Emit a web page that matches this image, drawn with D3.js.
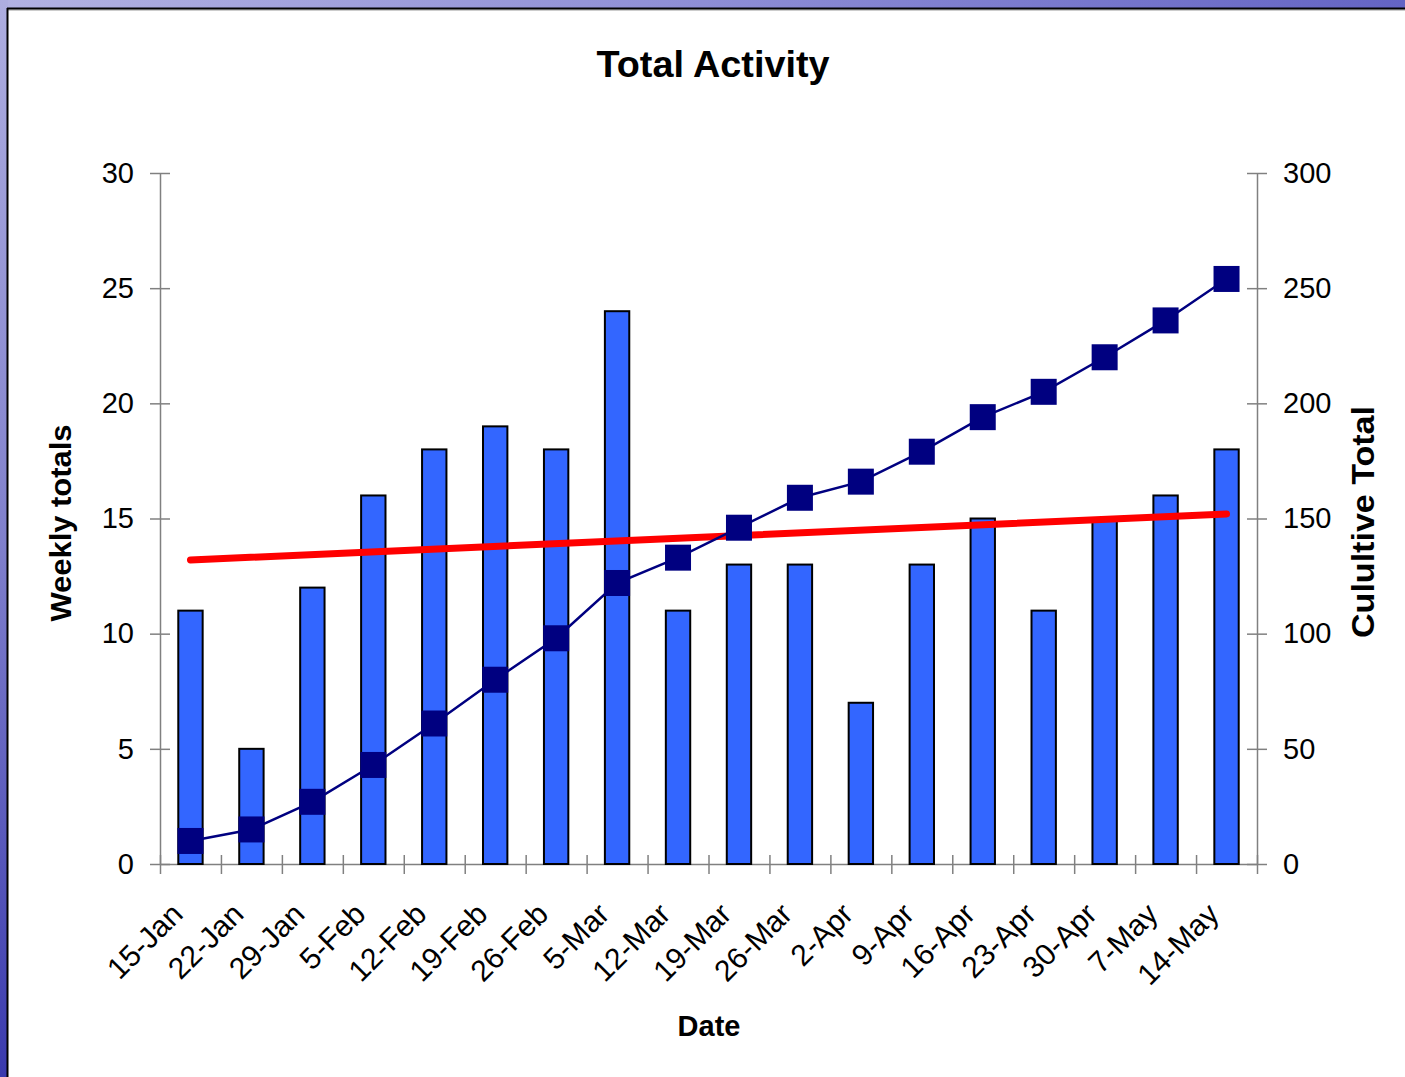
<!DOCTYPE html>
<html>
<head>
<meta charset="utf-8">
<script src="https://cdn.jsdelivr.net/npm/d3@7"></script>
<style>
  html, body { margin: 0; padding: 0; background: #ffffff; }
  svg { display: block; }
  text { font-family: "Liberation Sans", Arial, sans-serif; }
</style>
</head>
<body>
<svg id="chart" width="1405" height="1077"></svg>
<script>
// ---- data ----
const categories = ["15-Jan","22-Jan","29-Jan","5-Feb","12-Feb","19-Feb","26-Feb","5-Mar","12-Mar","19-Mar","26-Mar","2-Apr","9-Apr","16-Apr","23-Apr","30-Apr","7-May","14-May"];
const weeklyTotals = [11,5,12,16,18,19,18,24,11,13,13,7,13,15,11,15,16,18];
const cumulativeTotals = [10,15,27,43,61,80,98,122,133,146,159,166,179,194,205,220,236,254];
const trendEnds = [13.2, 15.2]; // trend line values at first and last week
const leftTicks = [0,5,10,15,20,25,30];
const rightTicks = [0,50,100,150,200,250,300];

const svg = d3.select("#chart");
const W = 1405, H = 1077;

// slide background
const defs = svg.append("defs");
const gTop = defs.append("linearGradient").attr("id","gTop").attr("x1","0").attr("x2","1").attr("y1","0").attr("y2","0");
gTop.append("stop").attr("offset","0").attr("stop-color","#b2b2e2");
gTop.append("stop").attr("offset","0.5").attr("stop-color","#8e8ed6");
gTop.append("stop").attr("offset","1").attr("stop-color","#6464c4");
const gLeft = defs.append("linearGradient").attr("id","gLeft").attr("x1","0").attr("x2","0").attr("y1","0").attr("y2","1");
gLeft.append("stop").attr("offset","0").attr("stop-color","#aeaee0");
gLeft.append("stop").attr("offset","0.5").attr("stop-color","#8080cc");
gLeft.append("stop").attr("offset","1").attr("stop-color","#3a3aae");
svg.append("rect").attr("x",0).attr("y",0).attr("width",W).attr("height",9).attr("fill","url(#gTop)");
svg.append("rect").attr("x",0).attr("y",0).attr("width",8).attr("height",H).attr("fill","url(#gLeft)");
svg.append("rect").attr("x",8).attr("y",9).attr("width",W-8).attr("height",H-9).attr("fill","#ffffff");
svg.append("line").attr("x1",7).attr("x2",W).attr("y1",10).attr("y2",10).attr("stroke","#9a9a9a").attr("stroke-width",1);
svg.append("line").attr("x1",7).attr("x2",W).attr("y1",8.5).attr("y2",8.5).attr("stroke","#000").attr("stroke-width",2);
svg.append("line").attr("x1",7.5).attr("x2",7.5).attr("y1",8).attr("y2",H).attr("stroke","#000").attr("stroke-width",2);

// scales
const plotL = 160, plotR = 1257, plotT = 173, plotB = 864;
const x = d3.scaleBand().domain(categories).range([plotL, plotR]).paddingInner(0.6).paddingOuter(0.3);
const xEdge = d3.scaleLinear().domain([0, categories.length]).range([plotL, plotR]);
const yL = d3.scaleLinear().domain([0,30]).range([plotB, plotT]);
const yR = d3.scaleLinear().domain([0,300]).range([plotB, plotT]);
const cx = d => x(d) + x.bandwidth()/2;

const axisColor = "#808080";
const fontSize = 29;

// left axis
const leftAxis = svg.append("g").attr("transform",`translate(${plotL},0)`)
  .call(d3.axisLeft(yL).tickValues(leftTicks).tickSize(0).tickPadding(26));
leftAxis.select(".domain").attr("stroke",axisColor).attr("stroke-width",1.5);
leftAxis.selectAll(".tick text").attr("font-size",fontSize).attr("fill","#000").attr("font-family","Liberation Sans, Arial, sans-serif");
leftAxis.selectAll(".tick").append("line").attr("x1",-10).attr("x2",10).attr("stroke",axisColor).attr("stroke-width",1.5);

// right axis
const rightAxis = svg.append("g").attr("transform",`translate(${plotR},0)`)
  .call(d3.axisRight(yR).tickValues(rightTicks).tickSize(0).tickPadding(26));
rightAxis.select(".domain").attr("stroke",axisColor).attr("stroke-width",1.5);
rightAxis.selectAll(".tick text").attr("font-size",fontSize).attr("fill","#000").attr("font-family","Liberation Sans, Arial, sans-serif");
rightAxis.selectAll(".tick").append("line").attr("x1",-10).attr("x2",10).attr("stroke",axisColor).attr("stroke-width",1.5);

// bottom axis (ticks at category edges)
const bottomAxis = svg.append("g").attr("transform",`translate(0,${plotB})`)
  .call(d3.axisBottom(xEdge).tickValues(d3.range(categories.length+1)).tickFormat("").tickSize(0));
bottomAxis.select(".domain").attr("stroke",axisColor).attr("stroke-width",1.5);
bottomAxis.selectAll(".tick").append("line").attr("y1",-9).attr("y2",10).attr("stroke",axisColor).attr("stroke-width",1.5);

// category labels
svg.append("g").selectAll("text").data(categories).join("text")
  .attr("transform", d => `translate(${cx(d)-6},${plotB+52}) rotate(-45)`)
  .attr("text-anchor","end")
  .attr("font-size",30)
  .attr("fill","#000")
  .text(d => d);

// bars
svg.append("g").selectAll("rect").data(weeklyTotals).join("rect")
  .attr("x",(d,i) => x(categories[i]))
  .attr("y",d => yL(d))
  .attr("width",x.bandwidth())
  .attr("height",d => plotB - yL(d))
  .attr("fill","#3366ff")
  .attr("stroke","#000")
  .attr("stroke-width",2);

// trend line
svg.append("line")
  .attr("x1",cx(categories[0])).attr("y1",yL(trendEnds[0]))
  .attr("x2",cx(categories[categories.length-1])).attr("y2",yL(trendEnds[1]))
  .attr("stroke","#ff0000").attr("stroke-width",7).attr("stroke-linecap","round");

// cumulative line
const line = d3.line().x((d,i) => cx(categories[i])).y(d => yR(d));
svg.append("path").datum(cumulativeTotals).attr("d",line)
  .attr("fill","none").attr("stroke","#000080").attr("stroke-width",2.5);
const ms = 26;
svg.append("g").selectAll("rect").data(cumulativeTotals).join("rect")
  .attr("x",(d,i) => cx(categories[i]) - ms/2)
  .attr("y",d => yR(d) - ms/2)
  .attr("width",ms).attr("height",ms)
  .attr("fill","#000080");

// titles
svg.append("text").attr("x",713).attr("y",77).attr("text-anchor","middle")
  .attr("font-size",36).attr("font-weight","bold")
  .attr("textLength",233).attr("lengthAdjust","spacingAndGlyphs").text("Total Activity");
svg.append("text").attr("x",709).attr("y",1036).attr("text-anchor","middle")
  .attr("font-size",29).attr("font-weight","bold").text("Date");
svg.append("text").attr("transform","translate(71,523) rotate(-90)").attr("text-anchor","middle")
  .attr("font-size",30).attr("font-weight","bold")
  .attr("textLength",197).attr("lengthAdjust","spacingAndGlyphs").text("Weekly totals");
svg.append("text").attr("transform","translate(1374,522) rotate(-90)").attr("text-anchor","middle")
  .attr("font-size",31).attr("font-weight","bold")
  .attr("textLength",232).attr("lengthAdjust","spacingAndGlyphs").text("Culultive Total");
</script>
</body>
</html>
